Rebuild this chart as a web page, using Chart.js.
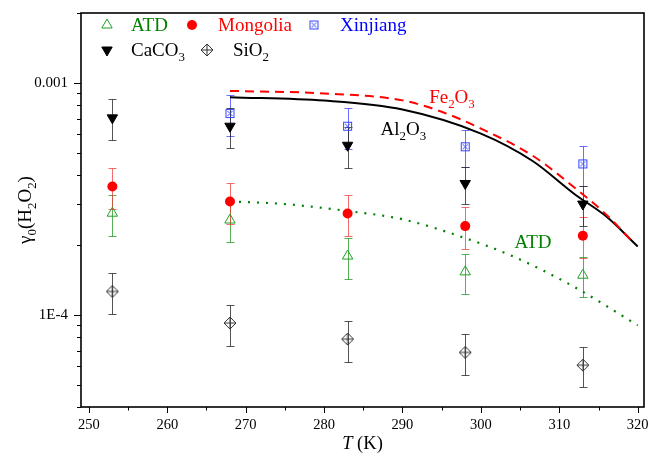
<!DOCTYPE html>
<html>
<head>
<meta charset="utf-8">
<script src="https://cdn.jsdelivr.net/npm/chart.js@4"></script>
<style>
html, body { margin: 0; padding: 0; background: #fff; }
#wrap { width: 651px; height: 465px; }
</style>
</head>
<body>
<div id="wrap"><canvas id="chart" width="651" height="465"></canvas></div>
<script>
// measured uptake coefficients vs temperature
const temps = [253, 268, 283, 298, 313];
const atd = [2.74e-4, 2.56e-4, 1.79e-4, 1.53e-4, 1.48e-4];
const atdErr = [0.55e-4, 0.51e-4, 0.36e-4, 0.30e-4, 0.29e-4];
const mongolia = [3.57e-4, 3.08e-4, 2.73e-4, 2.41e-4, 2.19e-4];
const mongoliaErr = [0.71e-4, 0.61e-4, 0.55e-4, 0.49e-4, 0.44e-4];
const xinjiang = [null, 7.37e-4, 6.50e-4, 5.30e-4, 4.47e-4];
const xinjiangErr = [null, 1.48e-4, 1.30e-4, 0.98e-4, 0.88e-4];
const caco3 = [7.06e-4, 6.50e-4, 5.38e-4, 3.68e-4, 3.00e-4];
const caco3Err = [1.42e-4, 1.27e-4, 1.08e-4, 0.67e-4, 0.59e-4];
const sio2 = [1.26e-4, 9.21e-5, 7.85e-5, 6.88e-5, 6.06e-5];
const sio2Err = [0.25e-4, 0.185e-4, 0.157e-4, 0.137e-4, 0.12e-4];

// curves
const feT = [268, 280, 290, 295, 300, 306.6, 312, 316, 319.6];
const feV = [9.23e-4, 9.0e-4, 8.4e-4, 7.5e-4, 6.35e-4, 4.85e-4, 3.52e-4, 2.7e-4, 2.02e-4];
const alT = [268, 280, 290, 300, 306.6, 312, 316, 320];
const alV = [8.67e-4, 8.38e-4, 7.67e-4, 6.04e-4, 4.6e-4, 3.3e-4, 2.65e-4, 1.97e-4];
const atdFitT = [268, 275, 283, 290, 298, 304, 311.7, 320];
const atdFitV = [3.08e-4, 3.0e-4, 2.8e-4, 2.58e-4, 2.14e-4, 1.79e-4, 1.33e-4, 9.0e-5];

const xTicks = [250, 255, 260, 265, 270, 275, 280, 285, 290, 295, 300, 305, 310, 315, 320];
const yTicks = [4e-5, 5e-5, 6e-5, 7e-5, 8e-5, 9e-5, 1e-4, 2e-4, 3e-4, 4e-4, 5e-4, 6e-4, 7e-4, 8e-4, 9e-4, 1e-3, 2e-3];

const SERIF = '"Liberation Serif", "Times New Roman", serif';
Chart.defaults.font.family = SERIF;
Chart.defaults.color = '#000';

function pts(xs, ys) {
    return xs.map((t, i) => ({x: t, y: ys[i]})).filter(p => p.y != null);
}

function squareX() {
    const c = document.createElement('canvas');
    c.width = 11; c.height = 11;
    const g = c.getContext('2d');
    g.strokeStyle = '#3344ff';
    g.lineWidth = 1;
    g.strokeRect(1.5, 1.5, 8, 8);
    g.beginPath();
    g.moveTo(3, 3); g.lineTo(8, 8);
    g.moveTo(8, 3); g.lineTo(3, 8);
    g.stroke();
    return c;
}

function diamondPlus() {
    const c = document.createElement('canvas');
    c.width = 14; c.height = 14;
    const g = c.getContext('2d');
    g.strokeStyle = '#333';
    g.lineWidth = 1;
    g.beginPath();
    g.moveTo(7, 1); g.lineTo(13, 7); g.lineTo(7, 13); g.lineTo(1, 7); g.closePath();
    g.moveTo(7, 1); g.lineTo(7, 13);
    g.moveTo(1, 7); g.lineTo(13, 7);
    g.stroke();
    return c;
}

const sqX = squareX();
const dmP = diamondPlus();

// text with subscripts: parts = [[text, isSub, isItalic], ...]
function richWidth(ctx, parts, size) {
    let w = 0;
    parts.forEach(p => {
        ctx.font = (p[2] ? 'italic ' : '') + (p[1] ? size * 0.68 : size) + 'px ' + SERIF;
        w += ctx.measureText(p[0]).width;
    });
    return w;
}
function drawRich(ctx, parts, x, y, size, color, align) {
    ctx.save();
    ctx.fillStyle = color;
    ctx.textBaseline = 'alphabetic';
    ctx.textAlign = 'left';
    let cx = x;
    if (align === 'center') cx = x - richWidth(ctx, parts, size) / 2;
    parts.forEach(p => {
        ctx.font = (p[2] ? 'italic ' : '') + (p[1] ? size * 0.68 : size) + 'px ' + SERIF;
        ctx.fillText(p[0], cx, p[1] ? y + size * 0.28 : y);
        cx += ctx.measureText(p[0]).width;
    });
    ctx.restore();
}

const errorBars = {
    id: 'errorBars',
    beforeDatasetsDraw(chart) {
        const {ctx, scales: {x, y}} = chart;
        chart.data.datasets.forEach(ds => {
            if (!ds.errors) return;
            ctx.save();
            ctx.strokeStyle = ds.errorColor;
            ctx.lineWidth = 1;
            ds.raw.forEach((v, j) => {
                if (v == null) return;
                const px = Math.round(x.getPixelForValue(temps[j])) + 0.5;
                const top = Math.round(y.getPixelForValue(v + ds.errors[j])) + 0.5;
                const bot = Math.round(y.getPixelForValue(v - ds.errors[j])) + 0.5;
                ctx.beginPath();
                ctx.moveTo(px, top); ctx.lineTo(px, bot);
                ctx.moveTo(px - 4, top); ctx.lineTo(px + 4, top);
                ctx.moveTo(px - 4, bot); ctx.lineTo(px + 4, bot);
                ctx.stroke();
            });
            ctx.restore();
        });
    }
};

const frameAndText = {
    id: 'frameAndText',
    afterDraw(chart) {
        const {ctx, chartArea: a, scales: {x, y}} = chart;
        ctx.save();
        ctx.strokeStyle = '#000';
        ctx.lineWidth = 1;
        ctx.beginPath();
        xTicks.forEach(t => {
            const px = Math.round(x.getPixelForValue(t)) + 0.5;
            ctx.moveTo(px, a.bottom);
            ctx.lineTo(px, a.bottom + (t % 10 === 0 ? 6 : 3.5));
        });
        yTicks.forEach(v => {
            const py = Math.round(y.getPixelForValue(v)) + 0.5;
            const major = Math.abs(Math.log10(v) - Math.round(Math.log10(v))) < 1e-6;
            ctx.moveTo(a.left, py);
            ctx.lineTo(a.left - (major ? 7 : 4), py);
        });
        ctx.stroke();
        ctx.lineWidth = 1.6;
        ctx.strokeRect(a.left, a.top, a.right - a.left, a.bottom - a.top);
        ctx.restore();

        // axis titles
        drawRich(ctx, [['T', false, true], [' (K)', false, false]], (a.left + a.right) / 2, 449, 18.5, '#000', 'center');
        ctx.save();
        ctx.translate(31, (a.top + a.bottom) / 2);
        ctx.rotate(-Math.PI / 2);
        drawRich(ctx, [['\u03b3', false], ['0', true], ['(H', false], ['2', true], ['O', false], ['2', true], [')', false]], 0, 0, 19, '#000', 'center');
        ctx.restore();

        // curve labels
        drawRich(ctx, [['Fe', false], ['2', true], ['O', false], ['3', true]], x.getPixelForValue(293.4), y.getPixelForValue(8.22e-4), 19, '#ff0000');
        drawRich(ctx, [['Al', false], ['2', true], ['O', false], ['3', true]], x.getPixelForValue(287.2), y.getPixelForValue(5.98e-4), 19, '#000');
        drawRich(ctx, [['ATD', false]], x.getPixelForValue(304.3), y.getPixelForValue(1.93e-4), 19, '#008000');

        // legend
        const items = [
            {ds: 0, mx: 107, my: 25, tx: 131, label: [['ATD', false]], color: '#008000'},
            {ds: 1, mx: 192, my: 25, tx: 218, label: [['Mongolia', false]], color: '#ff0000'},
            {ds: 2, mx: 314, my: 25, tx: 340, label: [['Xinjiang', false]], color: '#0000ff'},
            {ds: 3, mx: 107, my: 50, tx: 131, label: [['CaCO', false], ['3', true]], color: '#000'},
            {ds: 4, mx: 207, my: 50, tx: 233, label: [['SiO', false], ['2', true]], color: '#000'}
        ];
        items.forEach(it => {
            const ds = chart.data.datasets[it.ds];
            ctx.save();
            ctx.fillStyle = ds.pointBackgroundColor;
            ctx.strokeStyle = ds.pointBorderColor;
            ctx.lineWidth = ds.pointBorderWidth;
            Chart.helpers.drawPoint(ctx, {
                pointStyle: ds.pointStyle,
                radius: ds.pointRadius,
                rotation: ds.pointRotation || 0,
                borderWidth: ds.pointBorderWidth
            }, it.mx, it.my);
            ctx.restore();
            drawRich(ctx, it.label, it.tx, it.my + 6, 19, it.color);
        });
    }
};

function scatterSet(label, vals, errs, style, extra) {
    return Object.assign({
        label: label,
        data: pts(temps, vals),
        raw: vals,
        errors: errs,
        showLine: false,
        pointStyle: style
    }, extra);
}

function curveSet(label, xs, ys, color, dash, width) {
    return {
        label: label,
        data: pts(xs, ys),
        showLine: true,
        borderColor: color,
        borderWidth: width,
        borderDash: dash,
        pointRadius: 0,
        fill: false,
        cubicInterpolationMode: 'monotone'
    };
}

new Chart(document.getElementById('chart').getContext('2d'), {
    type: 'scatter',
    data: {
        datasets: [
            scatterSet('ATD', atd, atdErr, 'triangle', {
                pointRadius: 6, pointBorderWidth: 1,
                pointBackgroundColor: 'rgba(255,255,255,0)', pointBorderColor: '#22a022',
                errorColor: 'rgba(30,150,30,0.75)'
            }),
            scatterSet('Mongolia', mongolia, mongoliaErr, 'circle', {
                pointRadius: 5, pointBorderWidth: 0,
                pointBackgroundColor: '#ff0000', pointBorderColor: '#ff0000',
                errorColor: 'rgba(240,60,60,0.75)'
            }),
            scatterSet('Xinjiang', xinjiang, xinjiangErr, sqX, {
                pointRadius: 5, pointBorderWidth: 1,
                pointBackgroundColor: '#fff', pointBorderColor: '#3344ff',
                errorColor: 'rgba(60,60,255,0.75)'
            }),
            scatterSet('CaCO3', caco3, caco3Err, 'triangle', {
                pointRadius: 6, pointBorderWidth: 1, pointRotation: 180,
                pointBackgroundColor: '#000', pointBorderColor: '#000',
                errorColor: 'rgba(40,40,40,0.8)'
            }),
            scatterSet('SiO2', sio2, sio2Err, dmP, {
                pointRadius: 6, pointBorderWidth: 1,
                pointBackgroundColor: '#fff', pointBorderColor: '#333',
                errorColor: 'rgba(40,40,40,0.8)'
            }),
            curveSet('Fe2O3', feT, feV, '#ff0000', [9, 6], 2),
            curveSet('Al2O3', alT, alV, '#000', [], 2),
            curveSet('ATD fit', atdFitT, atdFitV, '#008000', [2, 7], 2.2)
        ]
    },
    options: {
        responsive: false,
        animation: false,
        layout: {padding: {top: 13, right: 6, left: 0, bottom: 0}},
        plugins: {
            legend: {display: false},
            tooltip: {enabled: false}
        },
        scales: {
            x: {
                type: 'linear',
                min: 249,
                max: 320.8,
                grid: {display: false, drawTicks: false},
                border: {display: false},
                afterBuildTicks: s => { s.ticks = xTicks.map(v => ({value: v})); },
                afterFit: s => { s.height = 58; s.paddingLeft = 0; s.paddingRight = 0; },
                ticks: {
                    autoSkip: false,
                    maxRotation: 0,
                    padding: 9,
                    font: {size: 14.5},
                    callback: v => (v % 10 === 0 ? String(v) : '')
                }
            },
            y: {
                type: 'logarithmic',
                min: 4e-5,
                max: 2e-3,
                grid: {display: false, drawTicks: false},
                border: {display: false},
                afterBuildTicks: s => { s.ticks = yTicks.map(v => ({value: v})); },
                afterFit: s => { s.width = 81; s.paddingTop = 0; s.paddingBottom = 0; },
                ticks: {
                    autoSkip: false,
                    padding: 13,
                    font: {size: 15},
                    callback: v => {
                        if (Math.abs(Math.log10(v) + 3) < 1e-6) return '0.001';
                        if (Math.abs(Math.log10(v) + 4) < 1e-6) return '1E-4';
                        return '';
                    }
                }
            }
        }
    },
    plugins: [errorBars, frameAndText]
});
</script>
</body>
</html>
